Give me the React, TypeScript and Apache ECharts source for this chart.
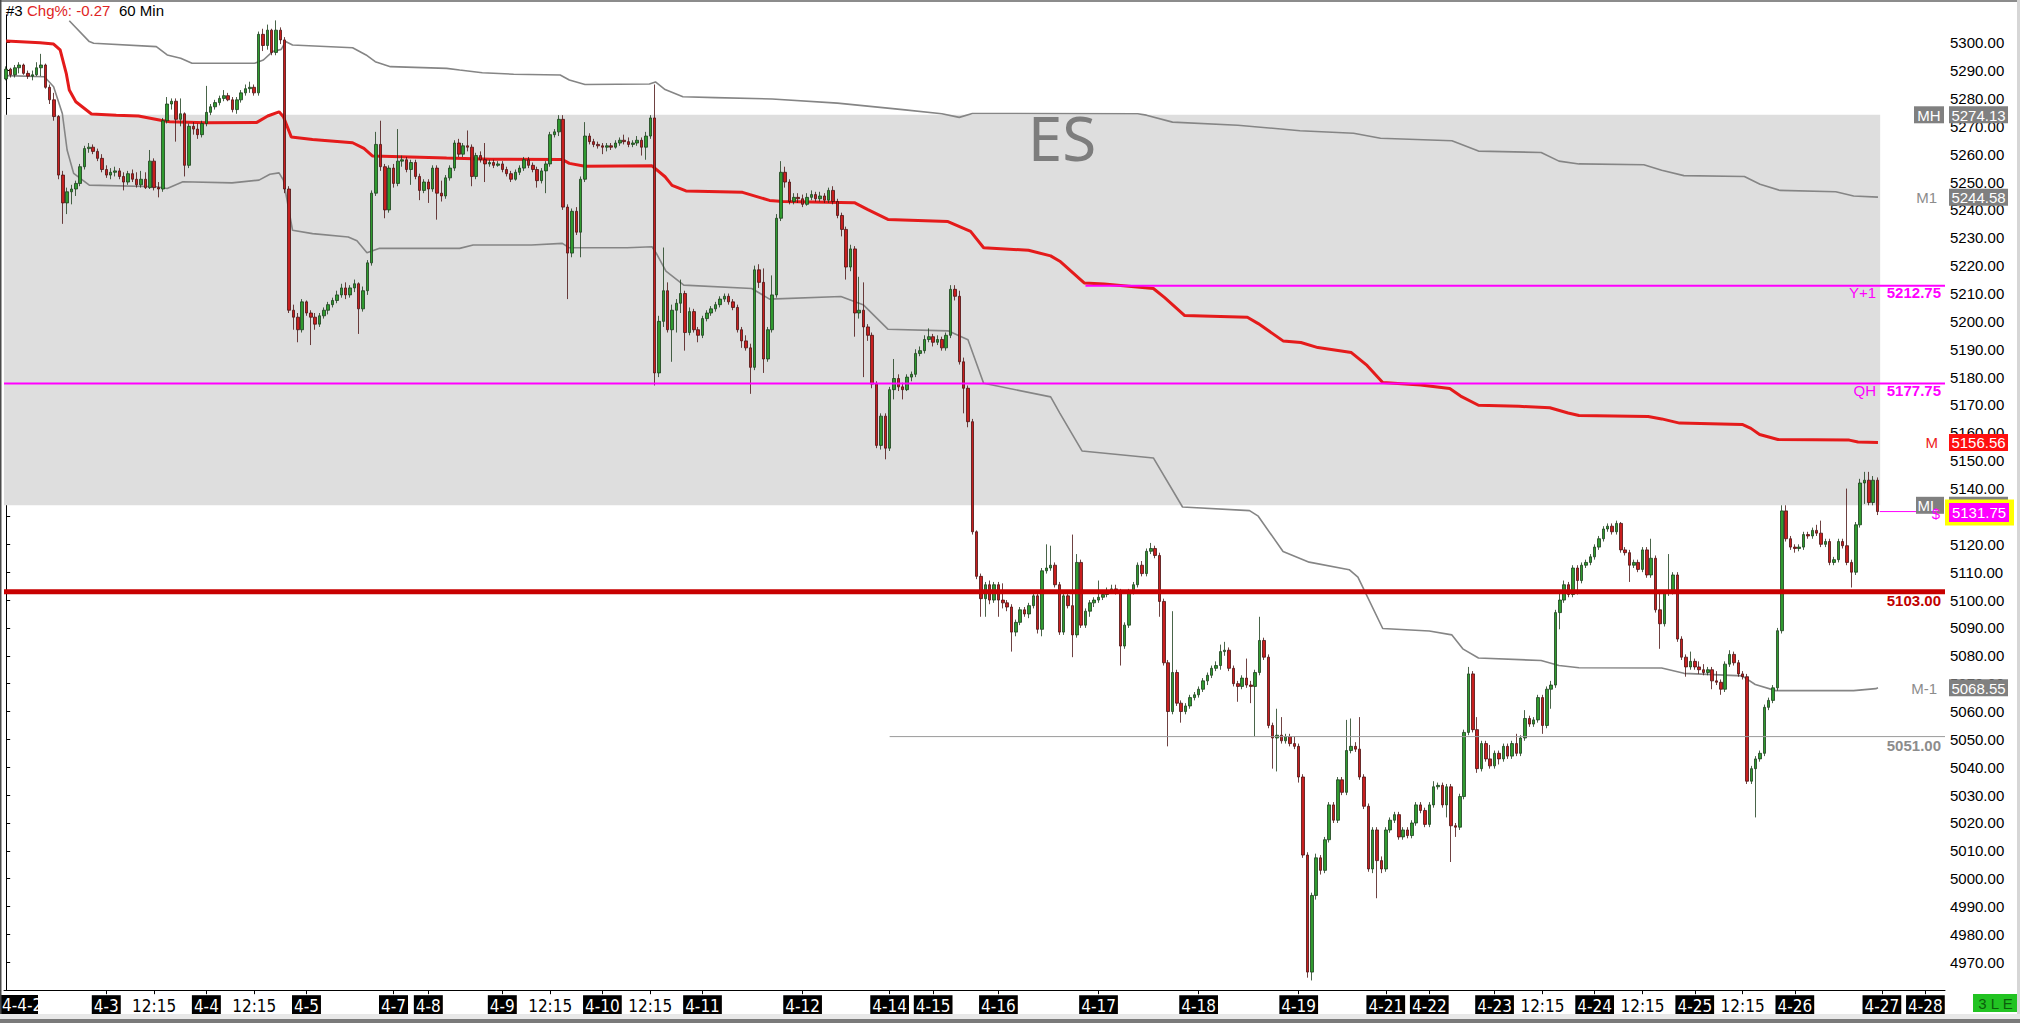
import React, { useEffect, useRef } from "react";
import * as echarts from "echarts";

const W = 2020;
const H = 1023;
const SANS = "'Liberation Sans', Arial, sans-serif";
const NARROW = "'Liberation Sans Narrow', 'DejaVu Sans Condensed', 'Liberation Sans', sans-serif";

// ---------- axes ----------
const CATEGORY_COUNT = 446; // 431 hourly bars + empty room on the right
const Y_MIN = 4960;
const Y_MAX = 5310;
const Y_STEP = 10;
const FIRST_LABEL = "4-4-2";
const xTickLabels: [number, string][] = [
  [23, "4-3"], [34, "12:15"], [46, "4-4"], [57, "12:15"], [69, "4-5"], [89, "4-7"], [97, "4-8"],
  [114, "4-9"], [125, "12:15"], [137, "4-10"], [148, "12:15"], [160, "4-11"], [183, "4-12"],
  [203, "4-14"], [213, "4-15"], [228, "4-16"], [251, "4-17"], [274, "4-18"], [297, "4-19"],
  [317, "4-21"], [327, "4-22"], [342, "4-23"], [353, "12:15"], [365, "4-24"], [376, "12:15"],
  [388, "4-25"], [399, "12:15"], [411, "4-26"], [431, "4-27"], [441, "4-28"],
];

// ---------- 60 min candles: [open, close, low, high] ----------
const s0402 = [
  [5287, 5290.5, 5286.5, 5291.5], [5290.5, 5288.5, 5287.5, 5291], [5288.5, 5291, 5287.5, 5292], [5291, 5292, 5289, 5293],
  [5292, 5289, 5288.5, 5292.5], [5289, 5288, 5287, 5290], [5288, 5288.5, 5286.5, 5290], [5288.5, 5291, 5288, 5293],
  [5291, 5292, 5288, 5296], [5292, 5284, 5283.5, 5292.5], [5284, 5279.5, 5278, 5285], [5279.5, 5273.5, 5272, 5282],
  [5273.5, 5252.5, 5251, 5274], [5252.5, 5242.5, 5235, 5254], [5242.5, 5246.5, 5238.5, 5248], [5246.5, 5247.5, 5242, 5249],
  [5247.5, 5249.5, 5245, 5250.5], [5249.5, 5255.5, 5248.5, 5256.5], [5255.5, 5262, 5254.5, 5263], [5262, 5262.5, 5260.5, 5264],
  [5262.5, 5261, 5260, 5263.5], [5261, 5258.5, 5257.5, 5262], [5258.5, 5254.5, 5253.5, 5260],
];
const s0403 = [
  [5254.5, 5252.5, 5251.5, 5256], [5252.5, 5253.5, 5251, 5255], [5253.5, 5254, 5252, 5255.5], [5254, 5252, 5251, 5255],
  [5252, 5250, 5247, 5253.5], [5250, 5253, 5249, 5254], [5253, 5251, 5250, 5254.5], [5251, 5249, 5248, 5253.5],
  [5249, 5251, 5248, 5254], [5251, 5248, 5247.5, 5253.5], [5248, 5257.5, 5247.5, 5261.5], [5257.5, 5248, 5247, 5258.5],
  [5248, 5247.5, 5244.5, 5250], [5247.5, 5272, 5246.5, 5273], [5272, 5278, 5271, 5280.5], [5278, 5279, 5276, 5280],
  [5279, 5272.5, 5264.5, 5280], [5272.5, 5274.5, 5270, 5280], [5274.5, 5256, 5252, 5275], [5256, 5270, 5255, 5271],
  [5270, 5269, 5267, 5271.5], [5269, 5267, 5265.5, 5271], [5267, 5271, 5266, 5272],
];
const s0404 = [
  [5271, 5275, 5270, 5284.5], [5275, 5277, 5274, 5278], [5277, 5278.5, 5276, 5279.5], [5278.5, 5280, 5277.5, 5281],
  [5280, 5281, 5279, 5283], [5281, 5279.5, 5279, 5282], [5279.5, 5276, 5275, 5280.5], [5276, 5279.5, 5274.5, 5280.5],
  [5279.5, 5282, 5278.5, 5283], [5282, 5283.5, 5281, 5285], [5283.5, 5284, 5282, 5286], [5284, 5282, 5281, 5285],
  [5282, 5303, 5281, 5304], [5303, 5299, 5297, 5305], [5299, 5304.5, 5297.5, 5306.5], [5304.5, 5296.5, 5295.5, 5305],
  [5296.5, 5304.5, 5295.5, 5308], [5304.5, 5301, 5299.5, 5305.5], [5301, 5247.5, 5246, 5302], [5247.5, 5204, 5203, 5248.5],
  [5204, 5201.5, 5197, 5206], [5201.5, 5197, 5192.5, 5203], [5197, 5207, 5196, 5208],
];
const s0405 = [
  [5207, 5203, 5202, 5207.5], [5203, 5201.5, 5191.5, 5204], [5201.5, 5199, 5197, 5203], [5199, 5202, 5198, 5203],
  [5202, 5204, 5201, 5205], [5204, 5206, 5202.5, 5207], [5206, 5207.5, 5205, 5208.5], [5207.5, 5209.5, 5206.5, 5211],
  [5209.5, 5212, 5208.5, 5213.5], [5212, 5209.5, 5208, 5214], [5209.5, 5212, 5208.5, 5213], [5212, 5213.5, 5210.5, 5215],
  [5213.5, 5204.5, 5195.5, 5214], [5204.5, 5211, 5203.5, 5212.5], [5211, 5221, 5209.5, 5222], [5221, 5246, 5220, 5247],
  [5246, 5263.5, 5245, 5268], [5263.5, 5255.5, 5254, 5272], [5255.5, 5240, 5237, 5256.5], [5240, 5255, 5239, 5256],
];
const s0407 = [
  [5255, 5249.5, 5248, 5256.5], [5249.5, 5257.5, 5248.5, 5269], [5257.5, 5258, 5255.5, 5259.5], [5258, 5254.5, 5253.5, 5259],
  [5254.5, 5257, 5249, 5258], [5257, 5252, 5251, 5258], [5252, 5247, 5243.5, 5253], [5247, 5250, 5246, 5251],
];
const s0408 = [
  [5250, 5247.5, 5242.5, 5251], [5247.5, 5255, 5246.5, 5256], [5255, 5246, 5236.5, 5256], [5246, 5245, 5243, 5250.5],
  [5245, 5251.5, 5244, 5252.5], [5251.5, 5255, 5250.5, 5256], [5255, 5264, 5254, 5265], [5264, 5260, 5259, 5265.5],
  [5260, 5263, 5259, 5264], [5263, 5262.5, 5261, 5268.5], [5262.5, 5252, 5248.5, 5263.5], [5252, 5259.5, 5251, 5260.5],
  [5259.5, 5258, 5257, 5261], [5258, 5256.5, 5250, 5264], [5256.5, 5257, 5255.5, 5258], [5257, 5256, 5255, 5258],
  [5256, 5256.5, 5255.5, 5257.5],
];
const s0409 = [
  [5256.5, 5254.5, 5253.5, 5257.5], [5254.5, 5253, 5252, 5255.5], [5253, 5251, 5250, 5254], [5251, 5253.5, 5250.5, 5254.5],
  [5253.5, 5255, 5252.5, 5256], [5255, 5258, 5254, 5259], [5258, 5256, 5255, 5259], [5256, 5254.5, 5253.5, 5257],
  [5254.5, 5250.5, 5248, 5255.5], [5250.5, 5254, 5249.5, 5255], [5254, 5256.5, 5246, 5257.5], [5256.5, 5267, 5255.5, 5268],
  [5267, 5268, 5266, 5269], [5268, 5272.5, 5266.5, 5274], [5272.5, 5241, 5240, 5274], [5241, 5224.5, 5208, 5242],
  [5224.5, 5239.5, 5223, 5240.5], [5239.5, 5232, 5231, 5241], [5232, 5251, 5223, 5252], [5251, 5266.5, 5250, 5271.5],
  [5266.5, 5264.5, 5263.5, 5267.5], [5264.5, 5263.5, 5262.5, 5265.5], [5263.5, 5263, 5262, 5264.5],
];
const s0410 = [
  [5263, 5262.5, 5260, 5264], [5262.5, 5263, 5261, 5264], [5263, 5262.5, 5261.5, 5264], [5262.5, 5264, 5262, 5265],
  [5264, 5265, 5263, 5266], [5265, 5264.5, 5263.5, 5267], [5264.5, 5263.5, 5262.5, 5266], [5263.5, 5264, 5262.5, 5265],
  [5264, 5265, 5263, 5266.5], [5265, 5262.5, 5259.5, 5266], [5262.5, 5266.5, 5258, 5268], [5266.5, 5273, 5265.5, 5274],
  [5273, 5181.5, 5177, 5285], [5181.5, 5200, 5180, 5202], [5200, 5211, 5198, 5226.5], [5211, 5197, 5196, 5214],
  [5197, 5204, 5185.5, 5206], [5204, 5206.5, 5196, 5208], [5206.5, 5210, 5203, 5215], [5210, 5196, 5189.5, 5211],
  [5196, 5203.5, 5195, 5205], [5203.5, 5197, 5196, 5204.5], [5197, 5195, 5192.5, 5198],
];
const s0411 = [
  [5195, 5201, 5194, 5202], [5201, 5203, 5200, 5204], [5203, 5204.5, 5202, 5205.5], [5204.5, 5206, 5203.5, 5207],
  [5206, 5208, 5205, 5209], [5208, 5209, 5207, 5210], [5209, 5207, 5206, 5210], [5207, 5205, 5204, 5208],
  [5205, 5197, 5196, 5206], [5197, 5193, 5190.5, 5198], [5193, 5190.5, 5189.5, 5195], [5190.5, 5183.5, 5174, 5192],
  [5183.5, 5218.5, 5182.5, 5220], [5218.5, 5214, 5212, 5220.5], [5214, 5186.5, 5181.5, 5219], [5186.5, 5197, 5185.5, 5198],
  [5197, 5209.5, 5196, 5216.5], [5209.5, 5237, 5208.5, 5238.5], [5237, 5253.5, 5236, 5257.5], [5253.5, 5250, 5248, 5255.5],
  [5250, 5243, 5242, 5251], [5243, 5244.5, 5242, 5246], [5244.5, 5244, 5242.5, 5246],
];
const s0412 = [
  [5244, 5242, 5241, 5245.5], [5242, 5244.5, 5241.5, 5246], [5244.5, 5245.5, 5243.5, 5247], [5245.5, 5244, 5243, 5246.5],
  [5244, 5245, 5243, 5246.5], [5245, 5243.5, 5242.5, 5246], [5243.5, 5247, 5242.5, 5248], [5247, 5243, 5242, 5248.5],
  [5243, 5238, 5237, 5244], [5238, 5233, 5230.5, 5239], [5233, 5219.5, 5215, 5234], [5219.5, 5226, 5218, 5227.5],
  [5226, 5203, 5194.5, 5227], [5203, 5204, 5201, 5216], [5204, 5198, 5180, 5214], [5198, 5195, 5193, 5199],
  [5195, 5177.5, 5176, 5196], [5177.5, 5155.5, 5154.5, 5178.5], [5155.5, 5166, 5154, 5167], [5166, 5154.5, 5150.5, 5167],
];
const s0414 = [
  [5154.5, 5175.5, 5153.5, 5176.5], [5175.5, 5179.5, 5172, 5186.5], [5179.5, 5176.5, 5175, 5181], [5176.5, 5175.5, 5172, 5178],
  [5175.5, 5180, 5175, 5181], [5180, 5181, 5178.5, 5182], [5181, 5188.5, 5180, 5190], [5188.5, 5189.5, 5187.5, 5191],
  [5189.5, 5193.5, 5188.5, 5195], [5193.5, 5194.5, 5192.5, 5197.5],
];
const s0415 = [
  [5194.5, 5192.5, 5191, 5195.5], [5192.5, 5193.5, 5191.5, 5195], [5193.5, 5190.5, 5189.5, 5194.5], [5190.5, 5195, 5189.5, 5196],
  [5195, 5211.5, 5194, 5213], [5211.5, 5209, 5207.5, 5213], [5209, 5185.5, 5184.5, 5211], [5185.5, 5176, 5167, 5187],
  [5176, 5164, 5162, 5177], [5164, 5124.5, 5123.5, 5165], [5124.5, 5108.5, 5107.5, 5125], [5108.5, 5100.5, 5094, 5109.5],
  [5100.5, 5105.5, 5094, 5106.5], [5105.5, 5100, 5098.5, 5107], [5100, 5105.5, 5099, 5106.5],
];
const s0416 = [
  [5105.5, 5100, 5094, 5106.5], [5100, 5099, 5097, 5106], [5099, 5097.5, 5096, 5100], [5097.5, 5088.5, 5081.5, 5098.5],
  [5088.5, 5092, 5087, 5093], [5092, 5096.5, 5091, 5097.5], [5096.5, 5095, 5094, 5097.5], [5095, 5098, 5093.5, 5099],
  [5098, 5101.5, 5097, 5102.5], [5101.5, 5089.5, 5088, 5102.5], [5089.5, 5110.5, 5087, 5111.5], [5110.5, 5111.5, 5109.5, 5120],
  [5111.5, 5112.5, 5110.5, 5119.5], [5112.5, 5105.5, 5104.5, 5113.5], [5105.5, 5088.5, 5087.5, 5106.5], [5088.5, 5101.5, 5087.5, 5102.5],
  [5101.5, 5098, 5097, 5103], [5098, 5087.5, 5079.5, 5123.5], [5087.5, 5113.5, 5086.5, 5116.5], [5113.5, 5091, 5090, 5114.5],
  [5091, 5096, 5090, 5097], [5096, 5099, 5094, 5100], [5099, 5100, 5097.5, 5101],
];
const s0417 = [
  [5100, 5101, 5099, 5107], [5101, 5102, 5100, 5103], [5102, 5103, 5101, 5104.5], [5103, 5104, 5102.5, 5105.5],
  [5104, 5103, 5102, 5105.5], [5103, 5083.5, 5076.5, 5104], [5083.5, 5091, 5082.5, 5092], [5091, 5103, 5090, 5104],
  [5103, 5105.5, 5102, 5106.5], [5105.5, 5112.5, 5104.5, 5113.5], [5112.5, 5109.5, 5108.5, 5114], [5109.5, 5117.5, 5108.5, 5118.5],
  [5117.5, 5118.5, 5116.5, 5120.5], [5118.5, 5116, 5115, 5119.5], [5116, 5099.5, 5094, 5117], [5099.5, 5077.5, 5076.5, 5100.5],
  [5077.5, 5060, 5047.5, 5078.5], [5060, 5074, 5059, 5096], [5074, 5063, 5062, 5075], [5063, 5060, 5056, 5064],
  [5060, 5062, 5059, 5063], [5062, 5065, 5061, 5066], [5065, 5066, 5064, 5067],
];
const s0418 = [
  [5066, 5068, 5065, 5069], [5068, 5071, 5067, 5072], [5071, 5073, 5069.5, 5074], [5073, 5075.5, 5072, 5076.5],
  [5075.5, 5076.5, 5074.5, 5078], [5076.5, 5081.5, 5075, 5084], [5081.5, 5082, 5080, 5085], [5082, 5075.5, 5074.5, 5083],
  [5075.5, 5070, 5069, 5076.5], [5070, 5069, 5063.5, 5071], [5069, 5072, 5068, 5073], [5072, 5069.5, 5068.5, 5079],
  [5069.5, 5069, 5063, 5071], [5069, 5074, 5051, 5075], [5074, 5085.5, 5073, 5094], [5085.5, 5079.5, 5078.5, 5086.5],
  [5079.5, 5055, 5054, 5080.5], [5055, 5050.5, 5039.5, 5056], [5050.5, 5051.5, 5038.5, 5061], [5051.5, 5049.5, 5048.5, 5058],
  [5049.5, 5051, 5048.5, 5052], [5051, 5048.5, 5047.5, 5052], [5048.5, 5047.5, 5046.5, 5051],
];
const s0419 = [
  [5047.5, 5036.5, 5034.5, 5048.5], [5036.5, 5008.5, 5007.5, 5037.5], [5008.5, 4966.5, 4964.5, 5009.5], [4966.5, 4994, 4963.5, 4995],
  [4994, 5007.5, 4992.5, 5009], [5007.5, 5003, 5001.5, 5008.5], [5003, 5014, 5002, 5015], [5014, 5026.5, 5013, 5027.5],
  [5026.5, 5021, 5020, 5027.5], [5021, 5035.5, 5020, 5036.5], [5035.5, 5031, 5030, 5036.5], [5031, 5046, 5030, 5057],
  [5046, 5047.5, 5045, 5057.5], [5047.5, 5046.5, 5045.5, 5049], [5046.5, 5036.5, 5035.5, 5058], [5036.5, 5026, 5025, 5037.5],
  [5026, 5003.5, 5002.5, 5027], [5003.5, 5017.5, 5002, 5018.5], [5017.5, 5006.5, 4993, 5018.5], [5006.5, 5003.5, 5002, 5008],
];
const s0421 = [
  [5003.5, 5017.5, 5002.5, 5018.5], [5017.5, 5021, 5016.5, 5022], [5021, 5023, 5020, 5024], [5023, 5015, 5014, 5024],
  [5015, 5017.5, 5014, 5018.5], [5017.5, 5015.5, 5014.5, 5018.5], [5015.5, 5020, 5014.5, 5021], [5020, 5026.5, 5019, 5027.5],
  [5026.5, 5024.5, 5023.5, 5027.5], [5024.5, 5019.5, 5018.5, 5025.5],
];
const s0422 = [
  [5019.5, 5026.5, 5018.5, 5027.5], [5026.5, 5033, 5025.5, 5035], [5033, 5033.5, 5032, 5034.5], [5033.5, 5026.5, 5025.5, 5034.5],
  [5026.5, 5033, 5022, 5034], [5033, 5019, 5006, 5034], [5019, 5018.5, 5015, 5020], [5018.5, 5029.5, 5017.5, 5030.5],
  [5029.5, 5052.5, 5028.5, 5053.5], [5052.5, 5073.5, 5051.5, 5076], [5073.5, 5053.5, 5052.5, 5074.5], [5053.5, 5039.5, 5038, 5058],
  [5039.5, 5048.5, 5038.5, 5049.5], [5048.5, 5043, 5042, 5049.5], [5043, 5040.5, 5039.5, 5048],
];
const s0423 = [
  [5040.5, 5045, 5039.5, 5046], [5045, 5043, 5041, 5046], [5043, 5047.5, 5042, 5048.5], [5047.5, 5044, 5043, 5048.5],
  [5044, 5048.5, 5043, 5049.5], [5048.5, 5045, 5044, 5052], [5045, 5050.5, 5044, 5051.5], [5050.5, 5057.5, 5049.5, 5060.5],
  [5057.5, 5055.5, 5054.5, 5058.5], [5055.5, 5057, 5054.5, 5058], [5057, 5065, 5056, 5066], [5065, 5055, 5052, 5066],
  [5055, 5068, 5054, 5069], [5068, 5069.5, 5061, 5071], [5069.5, 5095.5, 5068.5, 5096.5], [5095.5, 5100, 5089.5, 5103],
  [5100, 5105.5, 5099, 5107], [5105.5, 5102, 5101, 5106.5], [5102, 5111.5, 5101, 5112.5], [5111.5, 5107, 5102, 5112.5],
  [5107, 5112.5, 5106, 5113.5], [5112.5, 5113.5, 5111.5, 5114.5], [5113.5, 5115.5, 5112.5, 5116.5],
];
const s0424 = [
  [5115.5, 5119, 5114.5, 5120], [5119, 5122, 5118, 5123], [5122, 5125.5, 5121, 5126.5], [5125.5, 5126.5, 5124.5, 5127.5],
  [5126.5, 5124.5, 5123.5, 5127.5], [5124.5, 5127.5, 5123.5, 5128.5], [5127.5, 5118, 5117, 5128], [5118, 5117, 5116, 5119],
  [5117, 5112.5, 5106.5, 5118], [5112.5, 5113.5, 5111.5, 5114.5], [5113.5, 5111, 5110, 5114.5], [5111, 5118, 5110, 5119],
  [5118, 5109, 5108, 5119], [5109, 5115, 5108, 5122], [5115, 5096.5, 5095.5, 5116], [5096.5, 5091.5, 5082.5, 5102.5],
  [5091.5, 5102.5, 5090.5, 5103.5], [5102.5, 5103, 5101.5, 5116.5], [5103, 5109, 5102, 5110], [5109, 5086, 5085, 5110],
  [5086, 5079.5, 5078.5, 5087], [5079.5, 5076, 5072.5, 5080.5], [5076, 5078, 5075, 5081.5],
];
const s0425 = [
  [5078, 5076, 5075, 5079], [5076, 5075, 5073.5, 5078], [5075, 5074, 5073, 5077], [5074, 5075, 5073, 5076],
  [5075, 5071, 5068, 5076], [5071, 5070.5, 5069.5, 5074.5], [5070.5, 5068, 5066, 5071.5], [5068, 5077, 5067, 5078],
  [5077, 5080.5, 5076, 5082], [5080.5, 5077.5, 5076.5, 5081.5], [5077.5, 5073.5, 5072.5, 5078.5], [5073.5, 5072.5, 5071.5, 5074.5],
  [5072.5, 5035, 5034, 5073.5], [5035, 5039.5, 5034, 5040.5], [5039.5, 5043, 5022, 5044], [5043, 5045, 5042, 5046],
  [5045, 5061.5, 5044, 5062.5], [5061.5, 5064, 5060.5, 5065], [5064, 5068.5, 5063, 5069.5], [5068.5, 5089, 5067.5, 5090],
  [5089, 5132, 5088, 5134], [5132, 5122, 5121, 5134], [5122, 5119, 5118, 5123],
];
const s0426 = [
  [5119, 5118.5, 5117, 5120], [5118.5, 5119, 5117.5, 5120], [5119, 5123.5, 5118, 5124.5], [5123.5, 5123, 5122, 5124.5],
  [5123, 5125, 5122, 5126], [5125, 5124, 5123, 5127], [5124, 5120, 5119, 5128.5], [5120, 5121, 5119, 5122],
  [5121, 5113.5, 5112.5, 5122], [5113.5, 5114.5, 5112.5, 5115.5], [5114.5, 5121, 5113.5, 5122], [5121, 5119.5, 5118.5, 5122],
  [5119.5, 5113.5, 5112.5, 5140], [5113.5, 5110, 5104.5, 5114.5], [5110, 5127, 5109, 5128], [5127, 5142, 5126, 5143.5],
  [5142, 5143, 5134.5, 5146], [5143, 5135, 5134, 5146], [5135, 5143, 5134, 5144.5], [5143, 5131.75, 5130.5, 5144],
];

// ---------- overlay curves: [bar index, price] ----------
const curveM = [
  [0, 5300.6], [7.8, 5300], [10.9, 5299.5], [12.4, 5297.4], [13.8, 5289], [14.5, 5283], [16, 5278.8], [19.6, 5274.4],
  [25.3, 5274], [30.4, 5273.7], [35.5, 5272.2], [37.6, 5271.6], [45.8, 5271.3], [57.6, 5271.4], [60.1, 5273.7], [62.7, 5275.2],
  [63.7, 5273.4], [65.5, 5266.2], [70.4, 5265.3], [79.6, 5264.1], [82.2, 5262.1], [84.2, 5259.3], [90.9, 5259.1], [101.2, 5258.6],
  [111.4, 5258.2], [127.8, 5258.1], [129.4, 5256.7], [133, 5255.7], [148.4, 5255.8], [151.4, 5251.9], [153, 5248.8], [156.2, 5246.8],
  [169.2, 5246.3], [175.4, 5243.4], [178.5, 5243], [194.9, 5242.6], [198, 5240.1], [202.6, 5236.6], [216.4, 5235.8], [221.6, 5232.3],
  [224.6, 5226.4], [234.9, 5225.5], [240, 5223.5], [242.1, 5221.6], [247.7, 5213.8], [252.3, 5213.4], [263.6, 5211.8], [266.2, 5208.5],
  [270.8, 5202.1], [285.2, 5201.5], [287.7, 5199.2], [293.4, 5193], [297.5, 5192.4], [301.4, 5190.6], [309.1, 5188.8], [312.7, 5184.2],
  [316.3, 5178.1], [325, 5177.2], [331.7, 5175.9], [334.2, 5173.2], [338.3, 5169.9], [347.6, 5169.5], [354.7, 5169], [358.9, 5167.1],
  [361.4, 5166.2], [377.3, 5165.9], [380.4, 5165], [384.5, 5163.5], [398.9, 5163], [400.9, 5161.6], [402.9, 5159.4], [407.1, 5157.6],
  [423.5, 5157.4], [425.5, 5156.7], [430.1, 5156.56],
];
const curveM1 = [
  [14.5, 5307.9], [19.1, 5300.4], [20.1, 5299.8], [34.5, 5298.6], [37, 5295.6], [40.1, 5294.4], [42.7, 5292.6], [57.1, 5292.6],
  [59.1, 5293.8], [61.2, 5296.8], [63.2, 5297.6], [64.2, 5300.4], [65.8, 5299.2], [79.6, 5298.2], [82.7, 5295.6], [84.8, 5293.2],
  [88.3, 5291.4], [101.2, 5290.8], [104.2, 5290.2], [109.4, 5289.2], [116.6, 5288.7], [127.3, 5288.4], [129.4, 5286.6], [133, 5285],
  [147.8, 5285.2], [149.2, 5285.9], [151.4, 5283.2], [155.5, 5280.6], [162.9, 5280.3], [176, 5279.8], [191, 5278.3], [206, 5276],
  [215, 5274.5], [219, 5273.2], [222, 5274.6], [260, 5274.5], [262, 5274], [268, 5271.5], [283, 5270.4], [297.3, 5268.4],
  [309.6, 5267.5], [315.8, 5265.7], [332.2, 5264.8], [338.3, 5261.1], [352.7, 5260.6], [356.8, 5257.5], [361.4, 5256.5], [376.3, 5256.2],
  [380.4, 5254.2], [385.5, 5252.3], [399.4, 5252], [403, 5249.2], [407.6, 5247], [420.4, 5246.5], [424.5, 5245], [430.1, 5244.58],
];
const curveMm1 = [
  [0, 5288.2], [8.8, 5287.8], [10.9, 5284.2], [12.9, 5274.6], [14, 5261.5], [15.5, 5253.1], [19.1, 5248.9], [34.5, 5248.3],
  [37, 5247.7], [40.6, 5250.1], [51.9, 5249.7], [58.1, 5250.7], [60.6, 5252.8], [62.7, 5253.3], [63.7, 5250.7], [65.1, 5238.7],
  [65.8, 5232.7], [70.4, 5231.5], [78.6, 5230.3], [80.6, 5228.9], [82.9, 5224.6], [85.8, 5226.2], [104.2, 5226.2], [107.3, 5227.4],
  [120.7, 5227.4], [127.8, 5228], [129.4, 5226.4], [142.7, 5226.4], [148.4, 5226.8], [149.4, 5224.4], [151.6, 5218], [155.7, 5213],
  [171.3, 5211.8], [175.4, 5208], [191.8, 5208.9], [196.9, 5206], [202.6, 5197.2], [216.4, 5196.6], [221, 5193.4], [224.6, 5177.8],
  [240, 5172.9], [242.1, 5167.1], [247.2, 5153.5], [263.6, 5151], [270.3, 5133.4], [285.7, 5132.1], [287.7, 5130.1], [293.4, 5117.4],
  [299.4, 5113.6], [308.6, 5110.9], [310.6, 5108.2], [316.3, 5089.8], [327, 5088.9], [332.2, 5087.5], [334.7, 5082.5], [338.3, 5079.2],
  [352.7, 5078.3], [356.8, 5076.5], [361.4, 5075.7], [380.4, 5075.6], [385.5, 5073.7], [398.9, 5072.8], [401.9, 5069.7], [406.6, 5067.5],
  [424.5, 5067.5], [429.6, 5068.2], [430.1, 5068.55],
];

// ---------- levels ----------
const LEVEL_MH = 5274.13;
const LEVEL_ML = 5134.0;
const LEVEL_M1 = 5244.58;
const LEVEL_M = 5156.56;
const LEVEL_MM1 = 5068.55;
const LEVEL_Y1 = 5212.75;
const LEVEL_QH = 5177.75;
const LEVEL_LAST = 5131.75;
const LEVEL_R = 5103.0;
const LEVEL_S = 5051.0;
const BAND_END = 430.6;
const Y1_START = 248;
const S_START = 203;

const candles = [
  ...s0402, ...s0403, ...s0404, ...s0405, ...s0407, ...s0408, ...s0409, ...s0410, ...s0411, ...s0412, ...s0414,
  ...s0415, ...s0416, ...s0417, ...s0418, ...s0419, ...s0421, ...s0422, ...s0423, ...s0424, ...s0425, ...s0426,
];

const tickMap = new Map<number, string>(xTickLabels);
const categories = Array.from({ length: CATEGORY_COUNT }, (_, i) => String(i));
const X_END = CATEGORY_COUNT - 0.5;

function hLine(name: string, x0: number, x1: number, v: number, color: string, width: number) {
  return {
    name, type: "line", xAxisIndex: 1, yAxisIndex: 0, z: 4, silent: true,
    symbol: "none", data: [[x0, v], [x1, v]],
    lineStyle: { color, width },
  };
}

function txt(x: number, y: number, text: string, color: string, size: number, align: string, weight = "normal", family = SANS, z = 21) {
  return {
    type: "text", x, y, z, silent: true,
    style: {
      text, fill: color, fontSize: size, fontFamily: family, fontWeight: weight,
      align, verticalAlign: "middle", textAlign: align, textVerticalAlign: "middle",
    },
  };
}
function box(x: number, y: number, w: number, h: number, fill: string, z = 20) {
  return { type: "rect", z, silent: true, shape: { x, y, width: w, height: h }, style: { fill } };
}

export default function App() {
  const ref = useRef<HTMLDivElement>(null);
  useEffect(() => {
    document.body.style.margin = "0";
    if (!ref.current) return;
    const chart = echarts.init(ref.current, null, { renderer: "svg" });
    const option: any = {
      animation: false,
      backgroundColor: "#ffffff",
      grid: { left: 4, right: 75, top: 14.83, bottom: 32.8 },
      xAxis: [
        {
          type: "category", data: categories, boundaryGap: true,
          axisLine: { show: true, lineStyle: { color: "#000", width: 1 } },
          axisTick: { show: true, alignWithLabel: true, length: 4, interval: (i: number) => tickMap.has(i), lineStyle: { color: "#000" } },
          axisLabel: {
            interval: (i: number) => tickMap.has(i), margin: 5,
            formatter: (_v: string, i: number) => {
              const l = tickMap.get(i) || "";
              return l.indexOf(":") >= 0 ? `{t|${l}}` : `{d|${l}}`;
            },
            rich: {
              d: { backgroundColor: "#000", color: "#fff", fontFamily: NARROW, fontSize: 17, padding: [2, 2, 0, 2], lineHeight: 19 },
              t: { color: "#000", fontFamily: NARROW, fontSize: 17, lineHeight: 19, padding: [2, 2, 0, 2] },
            },
          },
          splitLine: { show: false },
        },
        { type: "value", min: -0.5, max: X_END, show: false, gridIndex: 0 },
      ],
      yAxis: {
        type: "value", position: "right", min: Y_MIN, max: Y_MAX, interval: Y_STEP,
        axisLine: { show: true, lineStyle: { color: "#000", width: 1 } },
        axisTick: { show: true, length: 4, lineStyle: { color: "#000" } },
        axisLabel: {
          color: "#000", fontSize: 15, fontFamily: SANS, margin: 5, showMinLabel: false, showMaxLabel: false,
          formatter: (v: number) => v.toFixed(2),
        },
        splitLine: { show: false },
      },
      series: [
        {
          name: "band", type: "line", xAxisIndex: 1, yAxisIndex: 0, z: 1, silent: true, symbol: "none",
          data: [[-0.5, LEVEL_MH]], lineStyle: { width: 0 },
          markArea: {
            silent: true, z: 1,
            itemStyle: { color: "#dedede" },
            data: [[{ coord: [-0.5, LEVEL_MH] }, { coord: [BAND_END, LEVEL_ML] }]],
          },
        },
        { name: "M", type: "line", xAxisIndex: 1, yAxisIndex: 0, z: 2, silent: true, symbol: "none", data: curveM, lineStyle: { color: "#e41b1b", width: 3 } },
        { name: "M1", type: "line", xAxisIndex: 1, yAxisIndex: 0, z: 2, silent: true, symbol: "none", data: curveM1, lineStyle: { color: "#858585", width: 1.6 } },
        { name: "M-1", type: "line", xAxisIndex: 1, yAxisIndex: 0, z: 2, silent: true, symbol: "none", data: curveMm1, lineStyle: { color: "#858585", width: 1.6 } },
        {
          name: "ES", type: "candlestick", xAxisIndex: 0, yAxisIndex: 0, z: 3, data: candles, barWidth: 3,
          itemStyle: { color: "#2f9a2f", color0: "#c81e1e", borderColor: "#1c3d1c", borderColor0: "#4a1212", borderWidth: 0.8 },
        },
        hLine("QH", -0.5, X_END, LEVEL_QH, "#ff00ff", 2),
        hLine("Y+1", Y1_START, X_END, LEVEL_Y1, "#ff00ff", 2),
        hLine("R", -0.5, X_END, LEVEL_R, "#c80000", 5),
        hLine("S", S_START, X_END, LEVEL_S, "#9a9a9a", 1),
        hLine("$", BAND_END - 0.1, X_END - 2.5, LEVEL_LAST, "#ff00ff", 1),
      ],
    };
    chart.setOption(option);

    const y = (v: number) => chart.convertToPixel({ yAxisIndex: 0 }, v) as number;
    const g: any[] = [];
    // frame
    g.push(box(0, 0, W, 2, "#8c8c8c", 30));
    g.push(box(0, 0, 1.5, 1014, "#4a4a4a", 30));
    g.push(box(2017, 0, 3, H, "#d6d6d6", 30));
    g.push(box(0, 1014, W, 5, "#e8e8e8", 30));
    g.push(box(0, 1019, W, 4, "#7a7a7a", 30));
    // header
    g.push(txt(6, 10, "#3", "#000", 15, "left"));
    g.push(txt(27, 10, "Chg%: -0.27", "#e02424", 15, "left"));
    g.push(txt(119, 10, "60 Min", "#000", 15, "left"));
    // watermark
    g.push({ type: "text", x: 1062, y: 137, z: 1.5, silent: true, style: { text: "ES", fill: "#7d7d7d", fontSize: 62, fontFamily: "'Noto Sans', sans-serif", align: "center", verticalAlign: "middle", textAlign: "center", textVerticalAlign: "middle" } });

    const valueBox = (v: number, label: string, bg: string) => {
      const cy = y(v);
      g.push(box(1949, cy - 8.5, 59, 17, bg, 20));
      g.push(txt(1978.5, cy + 0.5, label, "#fff", 15, "center"));
    };
    // MH
    g.push(box(1914, y(LEVEL_MH) - 8.5, 30, 17, "#808080", 20));
    g.push(txt(1929, y(LEVEL_MH) + 0.5, "MH", "#fff", 15, "center"));
    valueBox(LEVEL_MH, LEVEL_MH.toFixed(2), "#808080");
    // M1
    g.push(txt(1937, y(LEVEL_M1) + 0.5, "M1", "#8c8c8c", 15, "right"));
    valueBox(LEVEL_M1, LEVEL_M1.toFixed(2), "#808080");
    // Y+1
    g.push(txt(1876, y(LEVEL_Y1) + 7, "Y+1", "#ff00ff", 15, "right"));
    g.push(txt(1941, y(LEVEL_Y1) + 7, LEVEL_Y1.toFixed(2), "#ff00ff", 15, "right", "bold"));
    // QH
    g.push(txt(1876, y(LEVEL_QH) + 7, "QH", "#ff00ff", 15, "right"));
    g.push(txt(1941, y(LEVEL_QH) + 7, LEVEL_QH.toFixed(2), "#ff00ff", 15, "right", "bold"));
    // M
    g.push(txt(1938, y(LEVEL_M) + 0.5, "M", "#ee1c1c", 15, "right"));
    valueBox(LEVEL_M, LEVEL_M.toFixed(2), "#ff1010");
    // ML (mostly hidden) and last price
    g.push(box(1916, y(LEVEL_ML) - 8.5, 28, 17, "#808080", 20));
    g.push(txt(1928, y(LEVEL_ML) + 0.5, "ML", "#fff", 15, "center"));
    valueBox(LEVEL_ML, LEVEL_ML.toFixed(2), "#808080");
    g.push(txt(1936, y(LEVEL_LAST) + 2, "$", "#ff00ff", 15, "center", "normal", SANS, 22));
    const cyL = y(LEVEL_LAST);
    g.push(box(1945, cyL - 12, 69, 26, "#ffff00", 23));
    g.push(box(1949, cyL - 8.5, 60, 19, "#ff00ff", 24));
    g.push(txt(1979, cyL + 1, LEVEL_LAST.toFixed(2), "#fff", 15, "center", "normal", SANS, 25));
    // support / resistance labels
    g.push(txt(1941, y(LEVEL_R) + 9, LEVEL_R.toFixed(2), "#c00000", 15, "right", "bold"));
    g.push(txt(1941, y(LEVEL_S) + 9, LEVEL_S.toFixed(2), "#8c8c8c", 15, "right", "bold"));
    // M-1
    g.push(txt(1937, y(LEVEL_MM1) + 0.5, "M-1", "#8c8c8c", 15, "right"));
    valueBox(LEVEL_MM1, LEVEL_MM1.toFixed(2), "#808080");
    // first date label at the left edge
    g.push(box(0, 995, 38, 19, "#000", 20));
    g.push(txt(2, 1005, FIRST_LABEL, "#fff", 17, "left", "normal", NARROW));
    // status box
    g.push(box(1973, 994, 45, 18, "#22c322", 20));
    g.push(txt(1995.5, 1003.5, "3 L E", "#0b5e0b", 15, "center"));

    chart.setOption({ graphic: g });
    return () => chart.dispose();
  }, []);
  return <div ref={ref} style={{ width: W, height: H }} />;
}
